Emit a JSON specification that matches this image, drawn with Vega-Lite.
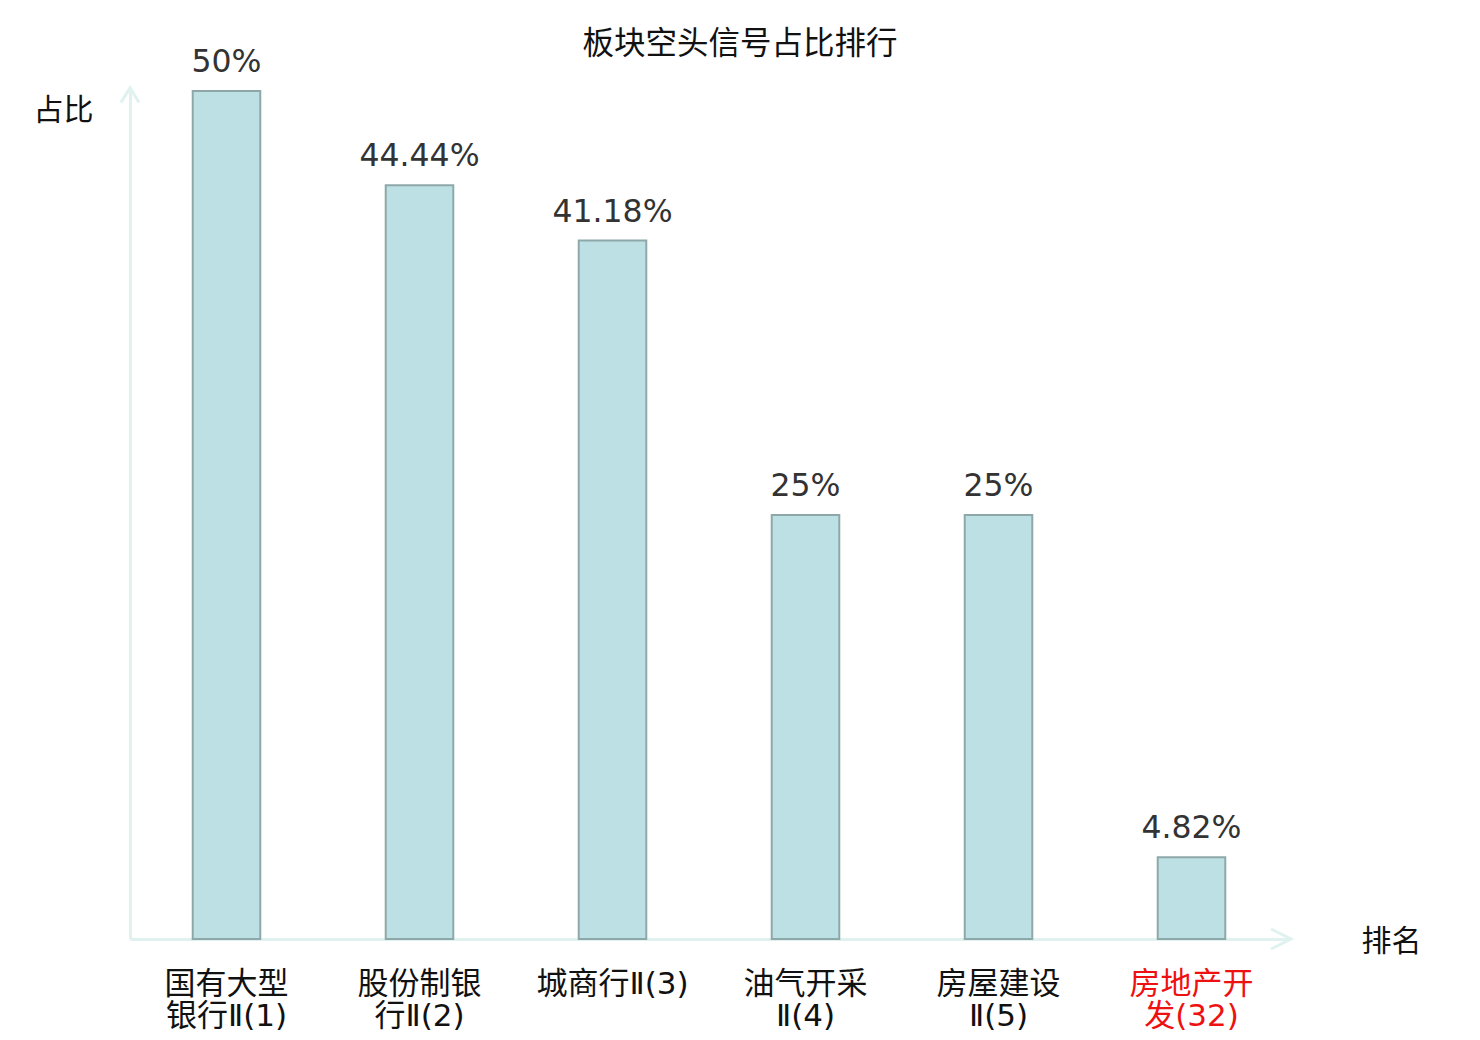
{
  "$schema": "https://vega.github.io/schema/vega-lite/v6.json",
  "description": "板块空头信号占比排行",
  "autosize": "none",
  "width": 1158,
  "height": 848,
  "padding": {"left": 130, "top": 91, "right": 192, "bottom": 101},
  "background": "white",
  "title": {
    "text": "板块空头信号占比排行",
    "fontSize": 31.5,
    "fontWeight": "normal",
    "font": "Noto Sans CJK SC",
    "color": "#111111",
    "anchor": "middle",
    "baseline": "middle",
    "offset": 7,
    "dy": 36,
    "dx": 31
  },
  "config": {
    "view": {"stroke": null},
    "font": "DejaVu Sans, Noto Sans CJK SC"
  },
  "layer": [
    {
      "data": {
        "values": [
          {"name": "国有大型银行Ⅱ(1)", "ratio": 50, "label": "50%"},
          {"name": "股份制银行Ⅱ(2)", "ratio": 44.44, "label": "44.44%"},
          {"name": "城商行Ⅱ(3)", "ratio": 41.18, "label": "41.18%"},
          {"name": "油气开采Ⅱ(4)", "ratio": 25, "label": "25%"},
          {"name": "房屋建设Ⅱ(5)", "ratio": 25, "label": "25%"},
          {"name": "房地产开发(32)", "ratio": 4.82, "label": "4.82%"}
        ]
      },
      "encoding": {
        "x": {
          "field": "name",
          "type": "nominal",
          "sort": null,
          "scale": {"paddingInner": 0.65, "paddingOuter": 0.325},
          "axis": {
            "title": "排名",
            "titleFont": "Noto Sans CJK SC",
            "titleFontSize": 30,
            "titleFontWeight": "normal",
            "titleColor": "#111111",
            "titleX": 1261,
            "titleY": 2,
            "titleAlign": "center",
            "titleBaseline": "middle",
            "labelAngle": 0,
            "labelFont": "DejaVu Sans, Noto Sans CJK SC",
            "labelFontSize": 31,
            "labelLineHeight": 32,
            "labelPadding": 30,
            "labelBaseline": "top",
            "labelExpr": "length(datum.label) > 7 ? [substring(datum.label, 0, 4), substring(datum.label, 4)] : datum.label",
            "labelColor": {
              "condition": {"test": "datum.label == '房地产开发(32)'", "value": "#ee1111"},
              "value": "#111111"
            },
            "ticks": false,
            "domainColor": "#dff2ef",
            "domainWidth": 3
          }
        },
        "y": {
          "field": "ratio",
          "type": "quantitative",
          "scale": {"domain": [0, 50], "nice": false},
          "axis": {
            "title": "占比",
            "titleFont": "Noto Sans CJK SC",
            "titleFontSize": 30,
            "titleFontWeight": "normal",
            "titleColor": "#111111",
            "titleAngle": 0,
            "titleX": -67,
            "titleY": 19,
            "titleAlign": "center",
            "titleBaseline": "middle",
            "labels": false,
            "ticks": false,
            "grid": false,
            "domainColor": "#dff2ef",
            "domainWidth": 3
          }
        }
      },
      "layer": [
        {
          "mark": {
            "type": "bar",
            "fill": "#bce0e3",
            "stroke": "#8ea8aa",
            "strokeWidth": 2
          }
        },
        {
          "mark": {
            "type": "text",
            "fontSize": 31.5,
            "color": "#333333",
            "baseline": "alphabetic",
            "dy": -19
          },
          "encoding": {"text": {"field": "label"}}
        }
      ]
    },
    {
      "data": {"values": [{"axis": "y"}]},
      "mark": {
        "type": "point",
        "shape": "M-1,1.6L0,0L1,1.6",
        "size": 324,
        "filled": false,
        "stroke": "#dff2ef",
        "strokeWidth": 3,
        "opacity": 1
      },
      "encoding": {"x": {"value": 0}, "y": {"value": -3}}
    },
    {
      "data": {"values": [{"axis": "x"}]},
      "mark": {
        "type": "point",
        "shape": "M-2,-1L0,0L-2,1",
        "size": 400,
        "filled": false,
        "stroke": "#dff2ef",
        "strokeWidth": 3,
        "opacity": 1
      },
      "encoding": {"x": {"value": 1161}, "y": {"value": "height"}}
    }
  ]
}
